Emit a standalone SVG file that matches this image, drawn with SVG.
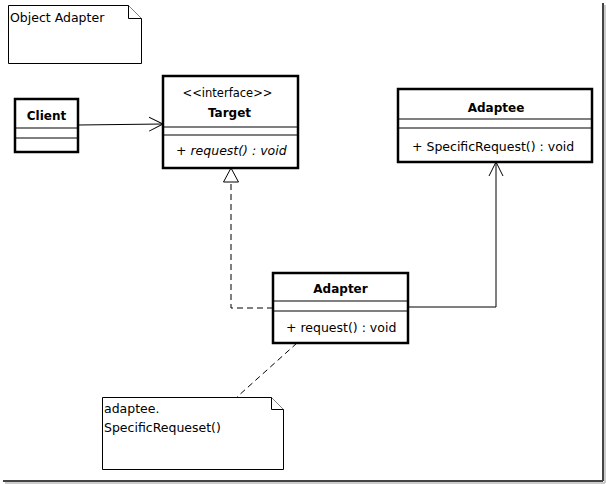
<svg xmlns="http://www.w3.org/2000/svg" width="606" height="484" viewBox="0 0 606 484">
<style>
text{font-family:"DejaVu Sans",Verdana,sans-serif;fill:#000;font-size:12.5px}
.t{text-anchor:middle}
.b{font-weight:bold;font-size:12px}
.box{fill:#fff;stroke:#000;stroke-width:2.5}
.div{stroke:#000;stroke-width:1}
.note{fill:#fff;stroke:#000;stroke-width:1}
.c{fill:none;stroke:#000;stroke-width:1}
.d{stroke-dasharray:6,4}
</style>
<defs>
<marker id="open" markerWidth="16" markerHeight="16" refX="14" refY="8" orient="auto" markerUnits="userSpaceOnUse">
<path d="M0,1 L14,8 L0,15" fill="none" stroke="#000" stroke-width="1"/>
</marker>
<marker id="tri" markerWidth="18" markerHeight="18" refX="15" refY="8" orient="auto" markerUnits="userSpaceOnUse">
<path d="M1,0.5 L15,8 L1,15.5 Z" fill="#fff" stroke="#000" stroke-width="1"/>
</marker>
</defs>
<rect width="606" height="484" fill="#fff"/>
<g id="frame">
<line x1="603" y1="3" x2="603" y2="481" stroke="#444" stroke-width="2"/>
<line x1="3" y1="481" x2="603" y2="481" stroke="#444" stroke-width="2"/>
<line x1="605" y1="5" x2="605" y2="483" stroke="#bbb" stroke-width="1.5"/>
<line x1="5" y1="483" x2="605" y2="483" stroke="#bbb" stroke-width="1.5"/>
</g>
<g id="connectors">
<line class="c" x1="78" y1="125" x2="163" y2="124" marker-end="url(#open)"/>
<polyline class="c d" points="273,308 231,308 231,168" marker-end="url(#tri)"/>
<polyline class="c" points="408,307 496,307 496,162" marker-end="url(#open)"/>
<line class="c d" x1="297" y1="343" x2="237" y2="397"/>
</g>
<g id="note-object-adapter">
<path class="note" d="M8.5,5.5 H128.5 L141.5,18.5 V63.5 H8.5 Z"/>
<path class="note" d="M128.5,5.5 V18.5 H141.5" fill="none"/>
<text x="10" y="22">Object Adapter</text>
</g>
<g id="client">
<rect class="box" x="15" y="99" width="63" height="53"/>
<line class="div" x1="15" y1="128" x2="78" y2="128"/>
<line class="div" x1="15" y1="138" x2="78" y2="138"/>
<text class="t b" x="46.5" y="120">Client</text>
</g>
<g id="target">
<rect class="box" x="163" y="76" width="135" height="92"/>
<line class="div" x1="163" y1="127" x2="298" y2="127"/>
<line class="div" x1="163" y1="135" x2="298" y2="135"/>
<text class="t" x="227.5" y="97" style="font-size:11.5px">&lt;&lt;interface&gt;&gt;</text>
<text class="t b" x="229.5" y="117">Target</text>
<text x="176" y="155" font-style="italic">+ request() : void</text>
</g>
<g id="adaptee">
<rect class="box" x="398" y="89" width="194" height="73"/>
<line class="div" x1="398" y1="119" x2="592" y2="119"/>
<line class="div" x1="398" y1="128" x2="592" y2="128"/>
<text class="t b" x="496" y="112">Adaptee</text>
<text x="412" y="151">+ SpecificRequest() : void</text>
</g>
<g id="adapter">
<rect class="box" x="273" y="273" width="135" height="70"/>
<line class="div" x1="273" y1="301" x2="408" y2="301"/>
<line class="div" x1="273" y1="311" x2="408" y2="311"/>
<text class="t b" x="340.5" y="293">Adapter</text>
<text x="286" y="332">+ request() : void</text>
</g>
<g id="note-adaptee">
<path class="note" d="M102.5,397.5 H271.5 L283.5,409.5 V469.5 H102.5 Z"/>
<path class="note" d="M271.5,397.5 V409.5 H283.5" fill="none"/>
<text x="104" y="413">adaptee.</text>
<text x="104" y="432">SpecificRequeset()</text>
</g>
</svg>
